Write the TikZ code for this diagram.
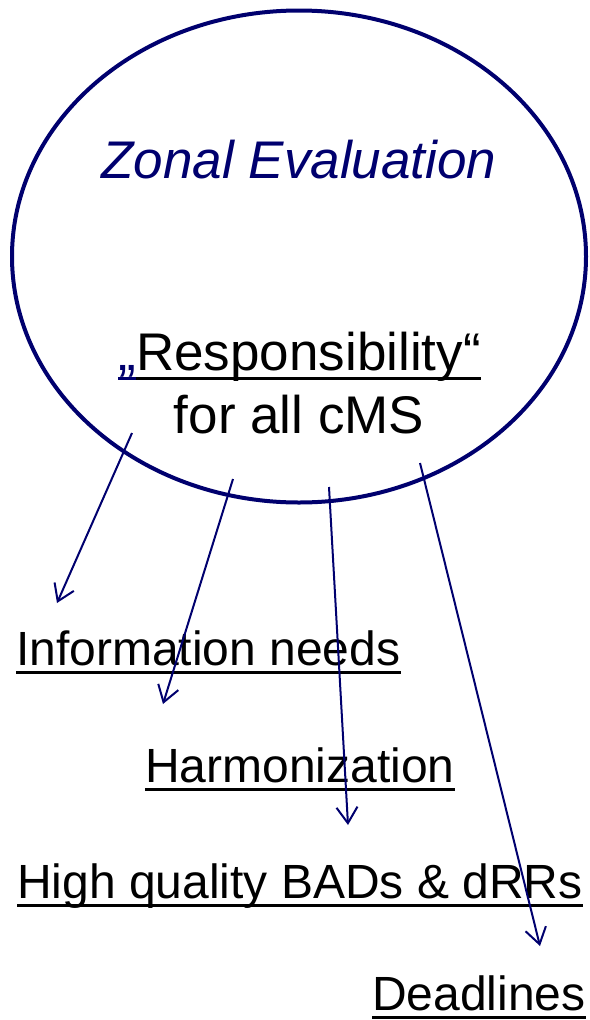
\documentclass[tikz,border=0pt]{standalone}
\usepackage{fontspec}
\setmainfont{Liberation Sans}
\usetikzlibrary{arrows.meta}
\usetikzlibrary{shapes.geometric}
\definecolor{zonenavy}{RGB}{0,0,110}
\tikzset{zone/.style = {ellipse, draw=zonenavy, line width=4pt, inner sep=0pt,
                        minimum width=574pt, minimum height=492pt},
         big/.style = {inner sep=0pt, font=\fontsize{53}{60}\selectfont},
         goal/.style = {anchor=base west, inner sep=0pt,
                        font=\fontsize{48}{56}\selectfont},
         uline/.style = {line width=3pt},
         conn/.style = {zonenavy, line width=2pt,
                        -{Straight Barb[length=16pt,width=21pt]}}}

\begin{document}
\begin{tikzpicture}[x=1pt, y=-1pt]
    \useasboundingbox (0,0) rectangle (589,1020);
    \node [zone] (zone) at (299,256.5) {};
    \node [big, anchor=base, text=zonenavy] (title) at (299,178) {\itshape Zonal Evaluation};

    \node [big, anchor=base west, text=zonenavy] (quote) at (118,370) {„};
    \node [big, anchor=base west] (resp) at (quote.base east) {Responsibility“};
    \draw [uline, zonenavy] ([yshift=-8pt]quote.base west) -- ([yshift=-8pt]quote.base east);
    \draw [uline] ([yshift=-8pt]resp.base west) -- ([yshift=-8pt]resp.base east);
    \node [big, anchor=base] (cms) at (299,433) {for all cMS};

    \node [goal] (info) at (16,665) {Information needs};
    \node [goal] (harm) at (145,782) {Harmonization};
    \node [goal] (bads) at (17,898) {High quality BADs \& dRRs};
    \node [goal] (dead) at (372,1010) {Deadlines};
    \foreach \n in {info,harm,bads,dead} {
      \draw [uline] ([yshift=-7pt]\n.base west) -- ([yshift=-7pt]\n.base east);
    }

    \coordinate (s1) at (132,433);
    \coordinate (e1) at (57,603);
    \coordinate (s2) at (233,479);
    \coordinate (e2) at (163,704);
    \coordinate (s3) at (329,487);
    \coordinate (e3) at (348,825);
    \coordinate (s4) at (420,463);
    \coordinate (e4) at (540,946);
    \foreach \i in {1,...,4} {
      \draw [conn] (s\i) -- (e\i);
    }
\end{tikzpicture}
\end{document}
